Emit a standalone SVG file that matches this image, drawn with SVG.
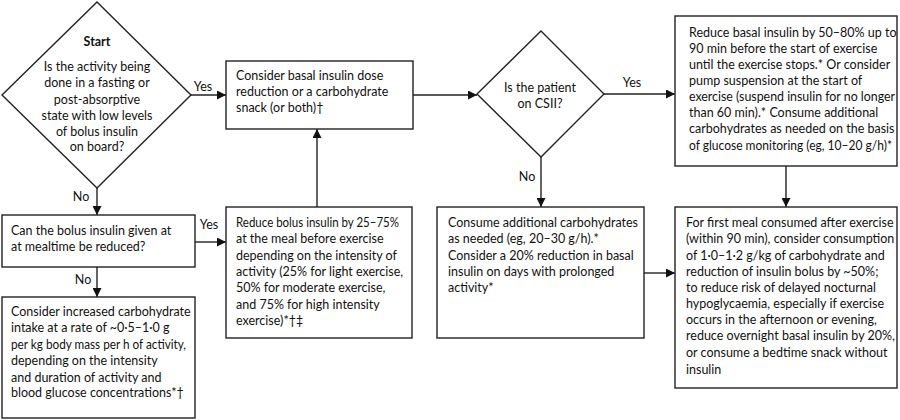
<svg xmlns="http://www.w3.org/2000/svg" width="900" height="420" viewBox="0 0 900 420">
<style>
.shape{fill:#fff;stroke:#222;stroke-width:1.4}
.t{font-family:Lato,"Open Sans","Liberation Sans",sans-serif;font-size:12.5px;fill:#111}
.c{text-anchor:middle}
.b{font-weight:bold}
.line{fill:none;stroke:#222;stroke-width:1.4}
</style>
<defs>
<marker id="ah" viewBox="0 0 10 10" refX="10" refY="5" markerWidth="9" markerHeight="9" markerUnits="userSpaceOnUse" orient="auto">
<path d="M0,0 L10,5 L0,10 z" fill="#111"/>
</marker>
</defs>
<rect width="900" height="420" fill="#fff"/>
<g id="connectors">
<path class="line" d="M191,95 H226" marker-end="url(#ah)"/>
<path class="line" d="M413,95 H477" marker-end="url(#ah)"/>
<path class="line" d="M604,94 H675" marker-end="url(#ah)"/>
<path class="line" d="M541,157 V207" marker-end="url(#ah)"/>
<path class="line" d="M786,166 V207" marker-end="url(#ah)"/>
<path class="line" d="M644,273 H675" marker-end="url(#ah)"/>
<path class="line" d="M97,188 V215" marker-end="url(#ah)"/>
<path class="line" d="M97,267 V297" marker-end="url(#ah)"/>
<path class="line" d="M195,242 H226" marker-end="url(#ah)"/>
<path class="line" d="M317,207 V129" marker-end="url(#ah)"/>
<text class="t c" x="203" y="91">Yes</text>
<text class="t c" x="632" y="87">Yes</text>
<text class="t c" x="527" y="181">No</text>
<text class="t c" x="81" y="201">No</text>
<text class="t c" x="83" y="284">No</text>
<text class="t c" x="209" y="229">Yes</text>
</g>
<g id="start">
<polygon class="shape" points="97,2 191,95 97,188 2,95"/>
<text class="t c b" x="97" y="46">Start</text>
<text class="t c" x="97"><tspan x="97" y="71">Is the activity being</tspan><tspan x="97" y="87">done in a fasting or</tspan><tspan x="97" y="104">post-absorptive</tspan><tspan x="97" y="120">state with low levels</tspan><tspan x="97" y="136">of bolus insulin</tspan><tspan x="97" y="151">on board?</tspan></text>
</g>
<g id="basal">
<rect class="shape" x="226" y="61" width="187" height="68"/>
<text class="t"><tspan x="236" y="80">Consider basal insulin dose</tspan><tspan x="236" y="96">reduction or a carbohydrate</tspan><tspan x="236" y="112">snack (or both)†</tspan></text>
</g>
<g id="csii">
<polygon class="shape" points="541,31 604,94 541,157 477,94"/>
<text class="t c"><tspan x="540" y="92">Is the patient</tspan><tspan x="540" y="108">on CSII?</tspan></text>
</g>
<g id="pump">
<rect class="shape" x="675" y="16" width="222" height="150"/>
<text class="t"><tspan x="689" y="37">Reduce basal insulin by 50–80% up to</tspan><tspan x="689" y="53">90 min before the start of exercise</tspan><tspan x="689" y="69">until the exercise stops.* Or consider</tspan><tspan x="689" y="85">pump suspension at the start of</tspan></text>
<text class="t" x="689" y="101" textLength="206" lengthAdjust="spacingAndGlyphs">exercise (suspend insulin for no longer</text>
<text class="t"><tspan x="689" y="117">than 60 min).* Consume additional</tspan><tspan x="689" y="133">carbohydrates as needed on the basis</tspan></text>
<text class="t" x="689" y="150" textLength="203" lengthAdjust="spacingAndGlyphs">of glucose monitoring (eg, 10–20 g/h)*</text>
</g>
<g id="consume">
<rect class="shape" x="437" y="207" width="207" height="131"/>
<text class="t"><tspan x="448" y="227">Consume additional carbohydrates</tspan><tspan x="448" y="243">as needed (eg, 20–30 g/h).*</tspan><tspan x="448" y="260">Consider a 20% reduction in basal</tspan><tspan x="448" y="276">insulin on days with prolonged</tspan><tspan x="448" y="292">activity*</tspan></text>
</g>
<g id="aftermeal">
<rect class="shape" x="675" y="207" width="222" height="181"/>
<text class="t"><tspan x="686" y="227">For first meal consumed after exercise</tspan><tspan x="686" y="243">(within 90 min), consider consumption</tspan><tspan x="686" y="260">of 1·0–1·2 g/kg of carbohydrate and</tspan><tspan x="686" y="276">reduction of insulin bolus by ~50%;</tspan><tspan x="686" y="292">to reduce risk of delayed nocturnal</tspan><tspan x="686" y="308">hypoglycaemia, especially if exercise</tspan><tspan x="686" y="324">occurs in the afternoon or evening,</tspan><tspan x="686" y="340">reduce overnight basal insulin by 20%,</tspan><tspan x="686" y="357">or consume a bedtime snack without</tspan><tspan x="686" y="374">insulin</tspan></text>
</g>
<g id="bolusq">
<rect class="shape" x="2" y="215" width="193" height="52"/>
<text class="t"><tspan x="11" y="235">Can the bolus insulin given at</tspan><tspan x="11" y="251">at mealtime be reduced?</tspan></text>
</g>
<g id="carbintake">
<rect class="shape" x="2" y="297" width="193" height="121"/>
<text class="t"><tspan x="11" y="316">Consider increased carbohydrate</tspan><tspan x="11" y="332">intake at a rate of ~0·5–1·0 g</tspan></text>
<text class="t" x="11" y="349" textLength="175" lengthAdjust="spacingAndGlyphs">per kg body mass per h of activity,</text>
<text class="t"><tspan x="11" y="365">depending on the intensity</tspan><tspan x="11" y="382">and duration of activity and</tspan><tspan x="11" y="397">blood glucose concentrations*†</tspan></text>
</g>
<g id="reducebolus">
<rect class="shape" x="226" y="207" width="186" height="131"/>
<text class="t" x="236" y="227" textLength="163" lengthAdjust="spacingAndGlyphs">Reduce bolus insulin by 25–75%</text>
<text class="t"><tspan x="236" y="243">at the meal before exercise</tspan><tspan x="236" y="260">depending on the intensity of</tspan><tspan x="236" y="276">activity (25% for light exercise,</tspan><tspan x="236" y="292">50% for moderate exercise,</tspan><tspan x="236" y="309">and 75% for high intensity</tspan><tspan x="236" y="325">exercise)*†‡</tspan></text>
</g>
</svg>
